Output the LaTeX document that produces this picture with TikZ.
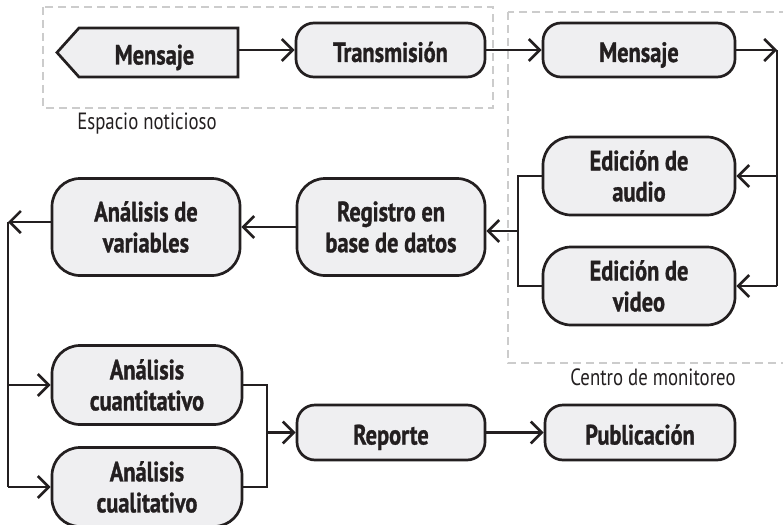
\documentclass[tikz,border=0pt]{standalone}
\usepackage{fontspec}
\setmainfont{PT Sans}[FakeStretch=0.8, BoldFeatures={FakeBold=1}]
\usetikzlibrary{arrows.meta,calc}
\definecolor{boxfill}{HTML}{EFEFF1}
\definecolor{ink}{HTML}{231F20}
\definecolor{dashgray}{HTML}{CCCCCC}
\tikzset{
 box/.style={draw=ink, fill=boxfill, line width=2.7pt, rounded corners=18pt, align=center,
   font=\fontsize{28}{31}\selectfont\bfseries, inner sep=0pt, text=ink},
 boxone/.style={box, minimum height=54pt, text height=24pt, text depth=0pt},
 boxtwo/.style={box, rounded corners=28pt, minimum height=78pt},
 conn/.style={draw=ink, line width=2.6pt},
 arr/.style={conn, -{Straight Barb[length=11pt,width=22pt]}},
 region/.style={draw=dashgray, line width=2pt, dash pattern=on 8pt off 5pt},
 lbl/.style={font=\fontsize{23.5}{26}\selectfont, inner sep=0pt, text=ink}
}
\begin{document}
\begin{tikzpicture}[x=1pt,y=-1pt]
\path[use as bounding box] (0,0) rectangle (783,524);
\begin{scope}
\clip (0,0) rectangle (783,524);
% regions
\draw[region] (43,7) rectangle (493,108);
\draw[region] (508,12) rectangle (810,363);
\node[lbl] (lblA) at (147,124) {Espacio noticioso};
\node[lbl] (lblB) at (653,377) {Centro de monitoreo};
% pentagon message
\draw[draw=ink, fill=boxfill, line width=2.7pt, line join=miter] (238,28) -- (238,77) -- (79,77) -- (57,52.5) -- (79,28) -- cycle;
\node[inner sep=0pt, minimum width=167pt, minimum height=49pt, text height=24pt, text depth=0pt, text=ink, font=\fontsize{28}{31}\selectfont\bfseries] (msgA) at (154.5,52.5) {Mensaje};
% top row
\node[boxone, minimum width=189pt] (trans) at (390.5,50) {Transmisión};
\node[boxone, minimum width=192pt] (msgB) at (639,50) {Mensaje};
% editing
\node[boxtwo, minimum width=192pt] (audio) at (639,176) {Edición de\\audio};
\node[boxtwo, minimum width=192pt] (video) at (639,286) {Edición de\\video};
% middle row
\node[boxtwo, minimum width=188pt, minimum height=97pt] (reg) at (391,227) {Registro en\\base de datos};
\node[boxtwo, minimum width=188pt, minimum height=97pt] (var) at (146,227) {Análisis de\\variables};
% analysis
\node[boxtwo, minimum width=190pt, minimum height=79pt] (cuanti) at (147,385) {Análisis\\cuantitativo};
\node[boxtwo, minimum width=190pt, minimum height=79pt] (cuali) at (147,487) {Análisis\\cualitativo};
% report
\node[boxone, minimum width=188pt, minimum height=55pt] (rep) at (391,432.5) {Reporte};
\node[boxone, minimum width=190pt, minimum height=55pt] (pub) at (640,432.5) {Publicación};
% coordinates
\coordinate (cR) at (777,50);
\coordinate (jL) at (518,231);
\coordinate (cL) at (8,222);
\coordinate (jR) at (267,432.5);
% connectors
\draw[arr] (trans.west -| msgA.east) -- (trans.west);
\draw[arr] (trans.east) -- (msgB.west);
\draw[arr] (msgB.east) -- (cR);
\draw[conn] (cR) -- (cR |- video.east);
\draw[arr] (cR |- audio.east) -- (audio.east);
\draw[arr] (cR |- video.east) -- (video.east);
\draw[conn] (audio.west) -- (audio.west -| jL) -- (video.west -| jL) -- (video.west);
\draw[arr] (jL) -- (jL -| reg.east);
\draw[arr] (reg.west) -- (var.east);
\draw[arr] (var.west |- cL) -- (cL);
\draw[conn] (cL) -- (cL |- cuali.west);
\draw[arr] (cL |- cuanti.west) -- (cuanti.west);
\draw[arr] (cL |- cuali.west) -- (cuali.west);
\draw[conn] (cuanti.east) -- (cuanti.east -| jR) -- (cuali.east -| jR) -- (cuali.east);
\draw[arr] (jR) -- (rep.west);
\draw[arr] (rep.east) -- (pub.west);
\end{scope}
\end{tikzpicture}
\end{document}
